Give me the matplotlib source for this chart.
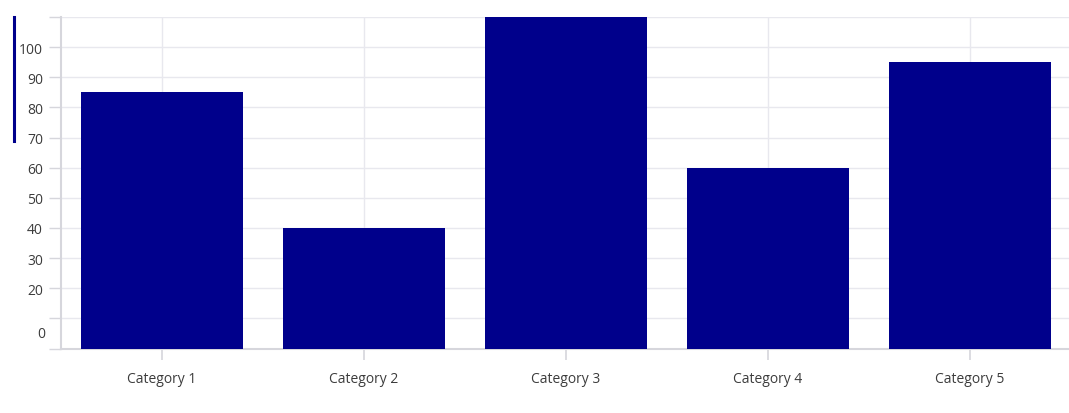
import matplotlib
matplotlib.use("Agg")
import matplotlib.pyplot as plt
from matplotlib.lines import Line2D

categories = ["Category 1", "Category 2", "Category 3", "Category 4", "Category 5"]
values = [85, 40, 110, 60, 95]
y_ticks = [0, 10, 20, 30, 40, 50, 60, 70, 80, 90, 100, 110]
y_labels = ["", "", "20", "30", "40", "50", "60", "70", "80", "90", "100", ""]

plt.rcParams['font.family'] = ['Open Sans', 'DejaVu Sans']

W, H = 1069, 414
fig = plt.figure(figsize=(W / 100, H / 100), dpi=100)
ax = fig.add_axes([61 / W, (H - 349.5) / H, (1069 - 61) / W, (349.5 - 18) / H])

grid_c = "#e8e8ee"
axis_c = "#d6d6dc"
text_c = "#3c3c3c"
fs = 10

x = list(range(len(categories)))
ax.bar(x, values, width=0.8, color="#00008B", zorder=3)

ax.set_xlim(-0.5, 4.49)
ax.set_ylim(0, 110)
ax.set_yticks(y_ticks)
ax.set_yticklabels(y_labels)
ax.set_xticks(x)
ax.set_xticklabels(categories)

ax.grid(True, color=grid_c, linewidth=1, zorder=0)
for s in ["top", "right"]:
    ax.spines[s].set_visible(False)
for s in ["left", "bottom"]:
    ax.spines[s].set_color(axis_c)
    ax.spines[s].set_linewidth(1.5)

ax.tick_params(axis="y", length=9, width=1, color=axis_c, labelcolor=text_c, labelsize=fs, pad=4)
ax.tick_params(axis="x", length=8, width=1.2, color=axis_c, labelcolor=text_c, labelsize=fs, pad=8)

ax.text(-0.016, 5, "0", transform=ax.get_yaxis_transform(), ha="right", va="center",
        color=text_c, fontsize=fs)

fig.add_artist(Line2D([14 / W, 14 / W], [(H - 18) / H, (H - 142) / H], color="#00008B",
                      linewidth=2.2, transform=fig.transFigure))

fig.savefig("out.png", dpi=100)
